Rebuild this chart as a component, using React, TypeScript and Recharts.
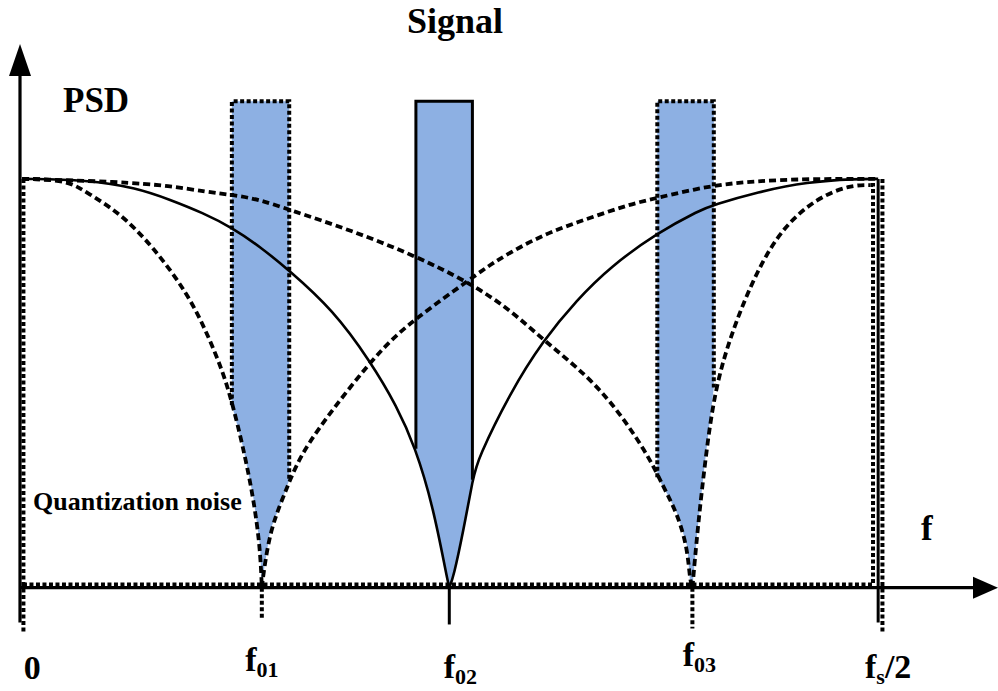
import { ComposedChart, Line, Area, XAxis, YAxis, ReferenceLine, ReferenceDot } from "recharts";

// f axis: 0 .. 100 means 0 .. fs/2 ; psd: 1 = flat top of the shaped noise
const F01 = 28.0;
const F02 = 49.9;
const F03 = 78.3;
const FS2 = 100;
const SIGNAL_LEVEL = 1.19;

// noise shaped with a notch at f01 (dotted)
const n1LeftF = [0, 2.1, 5.6, 7.6, 11.4, 15.3, 19.3, 21.6, 23.5, 24.6, 25.8, 27.0, 27.8, 28.0];
const n1LeftPsd = [1.0, 1.0, 0.993, 0.966, 0.917, 0.834, 0.721, 0.623, 0.526, 0.447, 0.345, 0.222, 0.1, 0];
const n1RightF = [28.0, 28.2, 29.0, 30.5, 31.3, 32.5, 34.5, 38.3, 42.2, 45.7, 52.7, 55.0, 59.0, 62.9, 66.7, 70.7, 74.2, 80.7, 85.9, 91.7, 100];
const n1RightPsd = [0, 0.037, 0.142, 0.222, 0.264, 0.32, 0.386, 0.491, 0.589, 0.655, 0.76, 0.795, 0.844, 0.88, 0.907, 0.936, 0.954, 0.985, 0.995, 1.0, 1.0];

// notch at f02 (solid)
const n2LeftF = [0, 7.6, 13.4, 17.3, 21.1, 24.6, 27.8, 31.1, 36.3, 40.7, 43.8, 45.9, 48.0, 49.6, 49.9];
const n2LeftPsd = [1.0, 0.998, 0.978, 0.949, 0.917, 0.88, 0.834, 0.778, 0.68, 0.553, 0.443, 0.345, 0.2, 0.027, 0];
const n2RightF = [49.9, 50.4, 51.5, 52.7, 53.2, 57.0, 60.9, 64.8, 68.7, 74.2, 79.2, 80.7, 85.9, 91.7, 97.5, 100];
const n2RightPsd = [0, 0.027, 0.134, 0.271, 0.313, 0.477, 0.606, 0.704, 0.785, 0.868, 0.924, 0.936, 0.968, 0.993, 1.0, 1.0];

// notch at f03 (dotted)
const n3LeftF = [0, 11.4, 17.3, 21.6, 24.6, 27.8, 31.3, 38.3, 45.7, 52.3, 57.0, 60.9, 64.8, 68.7, 73.0, 74.9, 76.5, 77.7, 78.0, 78.3];
const n3LeftPsd = [1.0, 0.993, 0.983, 0.968, 0.961, 0.949, 0.924, 0.875, 0.814, 0.746, 0.68, 0.606, 0.54, 0.46, 0.33, 0.247, 0.183, 0.1, 0.02, 0];
const n3RightF = [78.3, 78.9, 79.8, 80.95, 83.1, 85.9, 88.9, 92.9, 96.7, 99.1];
const n3RightPsd = [0, 0.142, 0.313, 0.491, 0.638, 0.778, 0.883, 0.954, 0.985, 0.985];

// closing edges of the noise shapes
const frameSolidF = [FS2, FS2];
const frameSolidPsd = [1.0, -0.085];
const frameOuterF = [100.5, 100.5];
const frameOuterPsd = [1.0, -0.107];
const frameInnerF = [99.1, 99.4, 99.4, 0];
const frameInnerPsd = [0.985, 0.985, 0.008, 0.008];
const frameLeftF = [0.15, 0.15];
const frameLeftPsd = [1.0, -0.107];

// signal bands: noise floor under each band
const band1F = [24.5, 25.8, 27.0, 27.8, 28.0, 28.2, 29.0, 30.5, 31.2];
const band1Noise = [0.447, 0.345, 0.222, 0.1, 0, 0.037, 0.142, 0.222, 0.264];
const band2F = [46.0, 48.0, 49.6, 49.9, 50.4, 51.5, 52.6];
const band2Noise = [0.34, 0.2, 0.027, 0, 0.027, 0.134, 0.264];
const band3F = [74.2, 74.9, 76.5, 77.7, 78.0, 78.3, 78.9, 79.8, 80.8];
const band3Noise = [0.27, 0.247, 0.183, 0.1, 0.02, 0, 0.142, 0.313, 0.49];

const tickValues = [0, F01, F02, F03, FS2];
const tickMain = ["0", "f", "f", "f", "f"];
const tickSub = ["", "01", "02", "03", "s"];
const tickTail = ["", "", "", "", "/2"];

const pts = (fs: number[], vs: number[]) => fs.map((f, i) => ({ f, v: vs[i] }));
const band = (fs: number[], lo: number[]) => fs.map((f, i) => ({ f, range: [lo[i], SIGNAL_LEVEL] }));
const outline = (fs: number[], lo: number[]) => [
  { f: fs[0], v: lo[0] },
  { f: fs[0], v: SIGNAL_LEVEL },
  { f: fs[fs.length - 1], v: SIGNAL_LEVEL },
  { f: fs[fs.length - 1], v: lo[lo.length - 1] },
];

const FONT = "'Liberation Serif', 'Times New Roman', serif";
const BLUE = "#8DB0E3";
const DOTS = "7 4";
const FINE = "4 2.5";

const tickOffsets = [
  { dx: 10, dy: 22 },
  { dx: 0, dy: 14 },
  { dx: 11, dy: 21 },
  { dx: 7, dy: 9 },
  { dx: 10, dy: 21 },
];

function FreqTick(props: any) {
  const { x, y, payload } = props;
  const i = tickValues.indexOf(payload.value);
  if (i < 0) return null;
  const o = tickOffsets[i];
  return (
    <text x={x + o.dx} y={y + o.dy} textAnchor="middle" fontFamily={FONT} fontWeight="bold" fontSize={34} fill="#000">
      {tickMain[i]}
      {tickSub[i] && (
        <tspan dy={6} fontSize={22}>
          {tickSub[i]}
        </tspan>
      )}
      {tickTail[i] && (
        <tspan dy={-6} fontSize={34}>
          {tickTail[i]}
        </tspan>
      )}
    </text>
  );
}

const lineProps = { dataKey: "v", dot: false, activeDot: false, isAnimationActive: false, stroke: "#000" } as const;

export default function App() {
  return (
    <div style={{ position: "absolute", left: 0, top: 0, width: 998, height: 691, background: "#fff" }}>
      <ComposedChart width={998} height={691} margin={{ top: 44, right: 0, bottom: 41, left: 20 }}>
        <XAxis
          dataKey="f"
          type="number"
          domain={[-0.25, 114]}
          allowDataOverflow
          ticks={tickValues}
          interval={0}
          axisLine={false}
          tickLine={false}
          height={1}
          tick={<FreqTick />}
        />
        <YAxis type="number" domain={[-0.15, 1.33]} allowDataOverflow hide />

        <Area data={band(band1F, band1Noise)} dataKey="range" type="linear" fill={BLUE} fillOpacity={1} stroke="none" isAnimationActive={false} />
        <Area data={band(band2F, band2Noise)} dataKey="range" type="linear" fill={BLUE} fillOpacity={1} stroke="none" isAnimationActive={false} />
        <Area data={band(band3F, band3Noise)} dataKey="range" type="linear" fill={BLUE} fillOpacity={1} stroke="none" isAnimationActive={false} />

        <Line {...lineProps} data={outline(band1F, band1Noise)} type="linear" strokeWidth={4} strokeDasharray={FINE} />
        <Line {...lineProps} data={outline(band2F, band2Noise)} type="linear" strokeWidth={3} />
        <Line {...lineProps} data={outline(band3F, band3Noise)} type="linear" strokeWidth={4} strokeDasharray={FINE} />

        <Line {...lineProps} data={pts(n1LeftF, n1LeftPsd)} type="basis" strokeWidth={3.8} strokeDasharray={DOTS} />
        <Line {...lineProps} data={pts(n1RightF, n1RightPsd)} type="basis" strokeWidth={3.8} strokeDasharray={DOTS} />
        <Line {...lineProps} data={pts(n2LeftF, n2LeftPsd)} type="basis" strokeWidth={2.6} />
        <Line {...lineProps} data={pts(n2RightF, n2RightPsd)} type="basis" strokeWidth={2.6} />
        <Line {...lineProps} data={pts(n3LeftF, n3LeftPsd)} type="basis" strokeWidth={3.8} strokeDasharray={DOTS} />
        <Line {...lineProps} data={pts(n3RightF, n3RightPsd)} type="basis" strokeWidth={3.8} strokeDasharray={DOTS} />

        <Line {...lineProps} data={pts(frameSolidF, frameSolidPsd)} type="linear" strokeWidth={3} />
        <Line {...lineProps} data={pts(frameOuterF, frameOuterPsd)} type="linear" strokeWidth={4} strokeDasharray={FINE} />
        <Line {...lineProps} data={pts(frameInnerF, frameInnerPsd)} type="linear" strokeWidth={4} strokeDasharray={FINE} />
        <Line {...lineProps} data={pts(frameLeftF, frameLeftPsd)} type="linear" strokeWidth={4} strokeDasharray={FINE} />

        {/* axes */}
        <ReferenceLine segment={[{ x: -0.25, y: 0 }, { x: 111.3, y: 0 }]} stroke="#000" strokeWidth={3.2} ifOverflow="visible" />
        <ReferenceLine segment={[{ x: -0.25, y: -0.085 }, { x: -0.25, y: 1.26 }]} stroke="#000" strokeWidth={3.2} ifOverflow="visible" />
        <ReferenceDot
          x={114}
          y={0}
          ifOverflow="visible"
          shape={(p: any) => <polygon points={`${p.cx},${p.cy} ${p.cx - 25},${p.cy - 11} ${p.cx - 25},${p.cy + 11}`} fill="#000" />}
        />
        <ReferenceDot
          x={-0.25}
          y={1.33}
          ifOverflow="visible"
          shape={(p: any) => <polygon points={`${p.cx},${p.cy} ${p.cx - 11},${p.cy + 32} ${p.cx + 11},${p.cy + 32}`} fill="#000" />}
        />

        {/* tick marks under the axis */}
        <ReferenceLine segment={[{ x: F01, y: 0 }, { x: F01, y: -0.078 }]} stroke="#000" strokeWidth={4} strokeDasharray={FINE} ifOverflow="visible" />
        <ReferenceLine segment={[{ x: F02, y: 0 }, { x: F02, y: -0.09 }]} stroke="#000" strokeWidth={3} ifOverflow="visible" />
        <ReferenceLine segment={[{ x: F03, y: 0 }, { x: F03, y: -0.1 }]} stroke="#000" strokeWidth={4} strokeDasharray={FINE} ifOverflow="visible" />

        <text x={455} y={33} textAnchor="middle" fontFamily={FONT} fontWeight="bold" fontSize={36}>
          Signal
        </text>
        <text x={63} y={112} fontFamily={FONT} fontWeight="bold" fontSize={35}>
          PSD
        </text>
        <text x={33} y={510} fontFamily={FONT} fontWeight="bold" fontSize={26}>
          Quantization noise
        </text>
        <text x={921} y={540} fontFamily={FONT} fontWeight="bold" fontSize={35}>
          f
        </text>
      </ComposedChart>
    </div>
  );
}
